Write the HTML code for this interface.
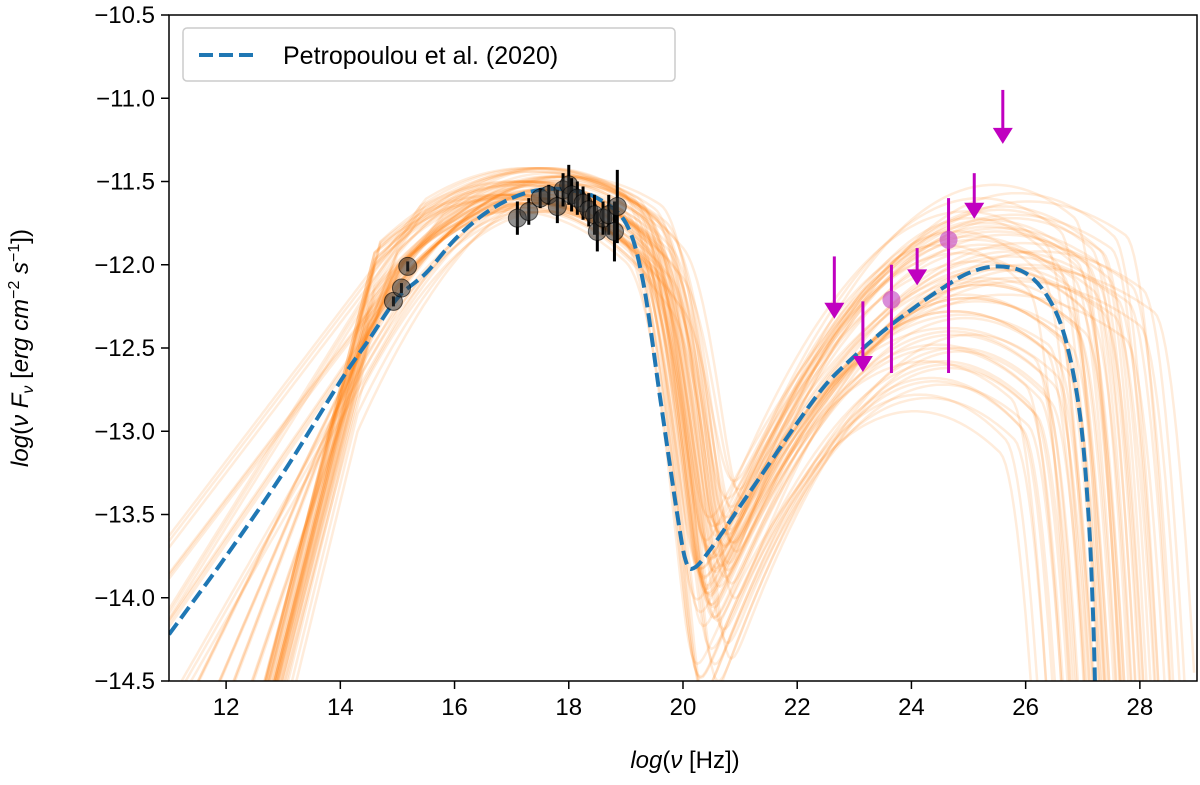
<!DOCTYPE html>
<html><head><meta charset="utf-8"><style>
body{margin:0;background:#fff;}
svg{font-family:"Liberation Sans","DejaVu Sans",sans-serif;}
</style></head><body>
<svg id="chart" width="1200" height="780" xmlns="http://www.w3.org/2000/svg">
<defs><clipPath id="clip"><rect x="169" y="15" width="1028" height="666"/></clipPath></defs>
<g id="curves" clip-path="url(#clip)"></g>
<g id="blue" clip-path="url(#clip)"></g>
<g id="pts"></g>
<rect x="169" y="15" width="1028" height="666" fill="none" stroke="#000" stroke-width="1.5"/>
<g id="axes"></g>
<text x="685" y="768" font-size="24" text-anchor="middle"><tspan font-style="italic">log</tspan>(<tspan font-style="italic">ν</tspan> [Hz])</text>
<text transform="translate(28,348) rotate(-90)" font-size="24" text-anchor="middle"><tspan font-style="italic">log</tspan>(<tspan font-style="italic">ν F</tspan><tspan font-style="italic" font-size="16" dy="5">ν</tspan><tspan dy="-5"> [</tspan><tspan font-style="italic">erg cm</tspan><tspan font-size="16" dy="-9">−2</tspan><tspan font-style="italic" dy="9"> s</tspan><tspan font-size="16" dy="-9">−1</tspan><tspan dy="9">])</tspan></text>
<g>
<rect x="183" y="28" width="492" height="53" rx="4" fill="#fff" stroke="#ccc" stroke-width="1.5"/>
<line x1="199" y1="55" x2="259" y2="55" stroke="#1f77b4" stroke-width="4" stroke-dasharray="14,6"/>
<text x="283" y="64" font-size="25">Petropoulou et al. (2020)</text>
</g>
</svg>
<script>
const xTicks=[12,14,16,18,20,22,24,26,28];
const yTicks=[-10.5,-11.0,-11.5,-12.0,-12.5,-13.0,-13.5,-14.0,-14.5];
const blueX=[11,12,13,14,14.5,15,15.5,16,16.5,17,17.5,18,18.5,19,19.3,19.6,19.9,20.05,20.2,20.5,21,21.5,22,22.5,23,23.5,24,24.5,25,25.5,26,26.4,26.7,26.95,27.1,27.18,27.22];
const blueY=[-14.22,-13.75,-13.25,-12.7,-12.45,-12.2,-12.05,-11.85,-11.7,-11.6,-11.55,-11.55,-11.6,-11.75,-12.1,-12.8,-13.5,-13.78,-13.82,-13.7,-13.45,-13.2,-12.95,-12.72,-12.55,-12.4,-12.27,-12.15,-12.05,-12.01,-12.05,-12.2,-12.45,-12.9,-13.5,-14.1,-14.6];
const dataX=[14.93,15.07,15.18,17.1,17.3,17.5,17.65,17.8,17.9,18.0,18.05,18.15,18.25,18.35,18.45,18.5,18.6,18.7,18.8,18.85];
const dataY=[-12.22,-12.14,-12.01,-11.72,-11.68,-11.6,-11.58,-11.65,-11.55,-11.52,-11.58,-11.6,-11.63,-11.67,-11.7,-11.8,-11.72,-11.7,-11.8,-11.65];
const dataErr=[0.03,0.03,0.03,0.1,0.08,0.06,0.06,0.1,0.1,0.12,0.1,0.1,0.1,0.1,0.12,0.12,0.1,0.12,0.18,0.22];
const gX=[23.65,24.65];const gY=[-12.21,-11.85];const gLo=[-12.65,-12.65];const gHi=[-12.0,-11.6];
const ulX=[22.65,23.15,24.1,25.1,25.6];const ulY=[-11.95,-12.22,-11.9,-11.45,-10.95];const ulLen=[0.35,0.4,0.2,0.25,0.3];
const sP=[-11.55,-11.5,-11.6,-11.5,-11.55,-11.6,-11.5,-11.55,-11.52,-11.58,-11.5,-11.6,-11.55,-11.52,-11.5,-11.58,-11.55,-11.6,-11.5,-11.55,-11.53,-11.57];
const sC=[17.5,17.2,17.8,17.0,17.4,17.6,17.3,17.7,17.1,17.5,17.3,17.9,17.6,17.2,17.4,17.5,17.8,17.3,17.1,17.6,17.4,17.5];
const sB=[0.08,0.07,0.09,0.06,0.08,0.1,0.07,0.08,0.06,0.09,0.08,0.1,0.07,0.06,0.08,0.09,0.07,0.08,0.06,0.09,0.08,0.07];
const sS=[1.35,1.35,1.3,0.45,1.4,0.6,1.35,0.5,1.3,1.35,0.9,1.4,0.7,1.35,0.45,1.3,1.35,1.0,0.55,1.4,1.35,0.8];
const sBr=[14.5,14.6,14.4,15.5,14.5,15.0,14.6,15.2,14.7,14.5,15.0,14.3,15.1,14.6,15.8,14.5,14.4,14.9,15.4,14.5,14.6,15.0];
const sCut=[19.3,19.0,19.6,19.2,19.4,19.8,18.9,19.5,19.1,19.3,20.0,19.5,19.2,19.7,19.1,19.4,19.6,19.0,19.3,19.5,19.8,19.2];
const iP=[-11.6,-12.0,-11.8,-12.5,-11.7,-12.2,-12.8,-11.9,-12.1,-12.4,-11.75,-12.6,-12.0,-11.85,-12.3,-11.65,-12.1,-12.7,-11.95,-12.2,-11.8,-12.5];
const iC=[25.2,25.5,24.8,24.5,25.8,25.0,24.3,25.4,25.9,24.7,25.3,24.6,26.0,25.1,24.9,25.6,25.2,24.4,25.7,25.0,25.5,24.8];
const iB=[0.1,0.08,0.12,0.1,0.07,0.09,0.11,0.08,0.06,0.1,0.09,0.12,0.07,0.1,0.08,0.09,0.1,0.12,0.07,0.09,0.08,0.11];
const iCut=[26.6,27.0,26.3,26.0,27.5,26.8,25.8,27.2,28.0,26.5,26.9,26.2,27.8,26.7,26.4,27.3,26.9,25.9,27.6,26.6,27.1,26.3];
const X=v=>169+(v-11)*57.11, Y=v=>15-(v+10.5)*166.5;
const NS="http://www.w3.org/2000/svg";
function mk(t,a,p){const e=document.createElementNS(NS,t);for(const k in a)e.setAttribute(k,a[k]);p.appendChild(e);return e;}
const axes=document.getElementById('axes');
xTicks.forEach(t=>{const g=mk('g',{},axes);


mk('line',{x1:X(t),x2:X(t),y1:681,y2:689,stroke:'#000','stroke-width':1.5},g);
mk('text',{x:X(t),y:715,'font-size':24,'text-anchor':'middle'},g).textContent=t;});
yTicks.forEach(t=>{const g=mk('g',{},axes);


mk('line',{x1:161,x2:169,y1:Y(t),y2:Y(t),stroke:'#000','stroke-width':1.5},g);
mk('text',{x:155,y:Y(t)+8,'font-size':24,'text-anchor':'end'},g).textContent='−'+Math.abs(t).toFixed(1);});
const cg=document.getElementById('curves');
for(let i=0;i<sP.length;i++){for(let r=0;r<3;r++){
 const dc=(r-1)*0.25, dp=(r-1)*0.08;
 let d='';
 for(let x=11;x<=29;x+=0.05){
  let xs=x<sBr[i]?sBr[i]:x;
  let ys=sP[i]+dp-sB[i]*(xs-sC[i]-dc)**2;
  if(x<sBr[i])ys-=sS[i]*(sBr[i]-x);
  if(x>sCut[i])ys-=1.6*(x-sCut[i])**2;
  let yi=iP[i]+dp-iB[i]*(x-iC[i]-dc)**2;
  if(x>iCut[i]+dc)yi-=4*(x-iCut[i]-dc)**2;
  let y=Math.log10(10**ys+10**yi);
  y=Math.max(-15,y);
  d+=(d?'L':'M')+X(x).toFixed(1)+','+Y(y).toFixed(1);
 }
 const p=mk('path',{d:d,fill:'none',stroke:'#ff7f0e','stroke-width':2.5,'stroke-opacity':0.15},cg);
 
 
}}
// smooth blue line (Catmull-Rom)
const P=blueX.map((x,i)=>[X(x),Y(blueY[i])]);
let bd='M'+P[0][0]+','+P[0][1];
for(let i=0;i<P.length-1;i++){const p0=P[Math.max(0,i-1)],p1=P[i],p2=P[i+1],p3=P[Math.min(P.length-1,i+2)];
 bd+=`C${p1[0]+(p2[0]-p0[0])/6},${p1[1]+(p2[1]-p0[1])/6} ${p2[0]-(p3[0]-p1[0])/6},${p2[1]-(p3[1]-p1[1])/6} ${p2[0]},${p2[1]}`;}
const bp=mk('path',{d:bd,fill:'none',stroke:'#1f77b4','stroke-width':4,'stroke-dasharray':'14,6'},document.getElementById('blue'));


const pg=document.getElementById('pts');
dataX.forEach((x,i)=>{const g=mk('g',{},pg);


mk('line',{x1:X(x),x2:X(x),y1:Y(dataY[i]-dataErr[i]),y2:Y(dataY[i]+dataErr[i]),stroke:'#000','stroke-width':3},g);
mk('circle',{cx:X(x),cy:Y(dataY[i]),r:9,fill:'#333','fill-opacity':0.55,stroke:'#000','stroke-opacity':0.6,'stroke-width':1},g);});
gX.forEach((x,i)=>{const g=mk('g',{},pg);


mk('line',{x1:X(x),x2:X(x),y1:Y(gLo[i]),y2:Y(gHi[i]),stroke:'#c000c0','stroke-width':3},g);
mk('circle',{cx:X(x),cy:Y(gY[i]),r:9,fill:'#c040c0','fill-opacity':0.6},g);});
ulX.forEach((x,i)=>{const g=mk('g',{},pg);


const y0=Y(ulY[i]),y1=Y(ulY[i]-ulLen[i]);
mk('line',{x1:X(x),x2:X(x),y1:y0,y2:y1-10,stroke:'#c000c0','stroke-width':3},g);
mk('polygon',{points:`${X(x)-10},${y1-12} ${X(x)+10},${y1-12} ${X(x)},${y1+4}`,fill:'#c000c0'},g);});
</script>
</body></html>
